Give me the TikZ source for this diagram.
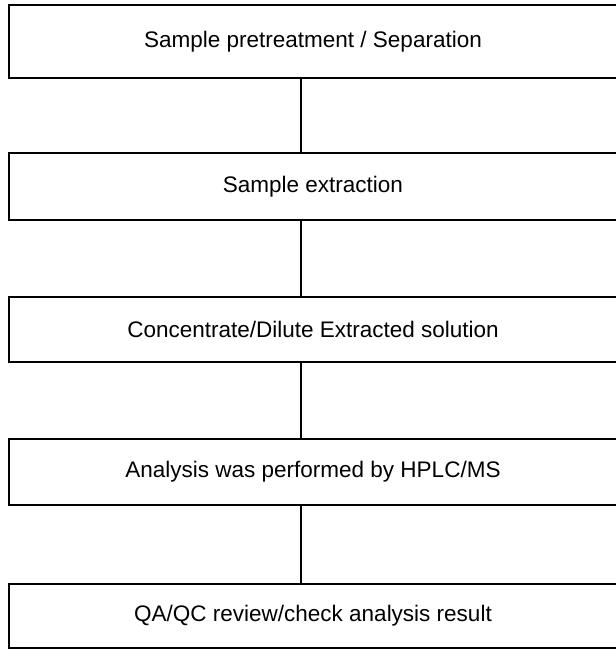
\documentclass[tikz,border=0pt]{standalone}
\usepackage{fontspec}
\setmainfont{Liberation Sans}
\begin{document}
\begin{tikzpicture}[x=1pt,y=-1pt,
  stepbox/.style={draw=black, line width=1.9pt, rectangle, minimum width=608pt,
    inner sep=0pt, font=\fontsize{22.5}{27}\selectfont},
  link/.style={draw=black, line width=2pt}]
  \useasboundingbox (0,0) rectangle (616,649);
  \begin{scope}
    \clip (0,0) rectangle (616,649);
    \node[stepbox, minimum height=73pt] (b1) at (313,41.5) {Sample pretreatment / Separation};
    \node[stepbox, minimum height=67pt] (b2) at (313,186.5) {Sample extraction};
    \node[stepbox, minimum height=65pt] (b3) at (313,329.5) {Concentrate/Dilute Extracted solution};
    \node[stepbox, minimum height=66pt] (b4) at (313,472) {Analysis was performed by HPLC/MS};
    \node[stepbox, minimum height=64pt] (b5) at (313,616) {QA/QC review/check analysis result};
    \foreach \a/\b in {b1/b2, b2/b3, b3/b4, b4/b5}
      \draw[link] ([xshift=-12pt]\a.south) -- ([xshift=-12pt]\b.north);
  \end{scope}
\end{tikzpicture}
\end{document}
